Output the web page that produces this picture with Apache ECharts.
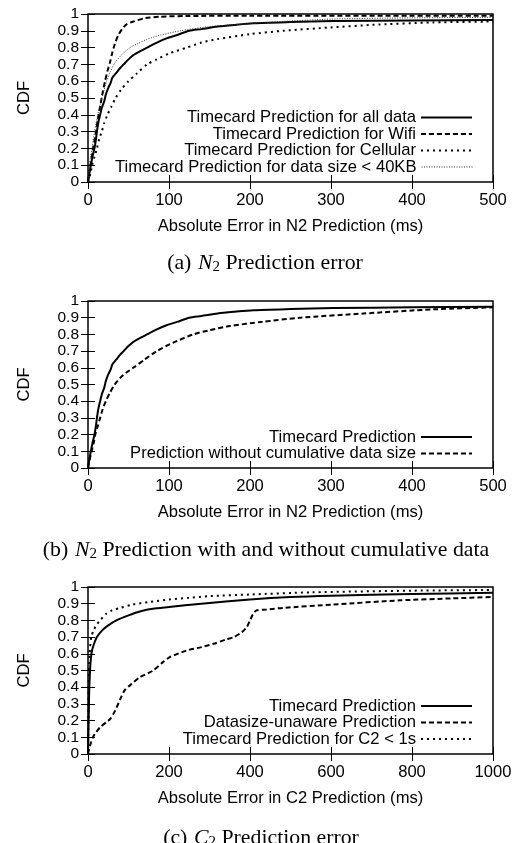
<!DOCTYPE html>
<html><head><meta charset="utf-8">
<script src="https://cdn.jsdelivr.net/npm/echarts@6/dist/echarts.min.js"></script>
<style>html,body{margin:0;padding:0;background:#fff}#c{width:515px;height:843px}</style>
</head><body><div id="c"></div>
<script>
// ---- Data ----
// (a) N2 prediction error
const aAllData = [[0,0],[2,0.06],[3.5,0.1],[6,0.16],[8,0.2],[10,0.26],[11,0.3],[13,0.36],[15,0.4],[17,0.44],[20,0.48],[22,0.52],[25,0.56],[28,0.59],[30,0.62],[35,0.65],[40,0.68],[44,0.7],[50,0.73],[56,0.755],[65,0.78],[73,0.8],[85,0.83],[97,0.855],[110,0.875],[125,0.9],[140,0.91],[160,0.925],[180,0.935],[204,0.945],[250,0.952],[303,0.958],[400,0.962],[500,0.965]];
const aWifiData = [[0,0],[2,0.07],[4,0.13],[7,0.22],[10,0.3],[12,0.37],[15,0.45],[18,0.53],[21,0.6],[24,0.66],[27,0.71],[30,0.77],[33,0.82],[37,0.87],[42,0.91],[48,0.94],[56,0.955],[70,0.975],[89,0.984],[120,0.988],[200,0.99],[500,0.99]];
const aCellData = [[0,0],[3,0.05],[5,0.1],[8,0.15],[11,0.2],[14,0.26],[17,0.3],[20,0.35],[24,0.4],[29,0.45],[34,0.5],[41,0.55],[50,0.6],[60,0.645],[73,0.7],[85,0.73],[100,0.765],[122,0.8],[140,0.83],[159,0.85],[200,0.88],[241,0.9],[300,0.92],[350,0.935],[426,0.95],[500,0.955]];
const aSmallData = [[0,0],[1.5,0.08],[3,0.15],[5,0.2],[8,0.3],[10,0.35],[12,0.4],[15,0.46],[17,0.5],[20,0.55],[23,0.6],[27,0.65],[32,0.7],[40,0.75],[52,0.8],[62,0.825],[73,0.85],[90,0.875],[114,0.9],[150,0.925],[221,0.95],[303,0.97],[400,0.977],[500,0.98]];
// (b) with / without cumulative data
const bTcData = [[0,0],[2,0.06],[3.5,0.1],[6,0.16],[8,0.2],[10,0.26],[11,0.3],[13,0.36],[15,0.4],[17,0.44],[20,0.48],[22,0.52],[25,0.56],[28,0.59],[30,0.62],[35,0.65],[40,0.68],[44,0.7],[50,0.73],[56,0.755],[65,0.78],[73,0.8],[85,0.83],[97,0.855],[110,0.875],[125,0.9],[140,0.91],[160,0.925],[180,0.935],[204,0.945],[250,0.952],[303,0.958],[400,0.962],[500,0.965]];
const bNoCumData = [[0,0],[2,0.05],[4.5,0.1],[7,0.15],[9,0.2],[12,0.25],[15,0.3],[18,0.35],[22,0.4],[27,0.45],[33,0.5],[40,0.54],[47,0.57],[56,0.6],[70,0.65],[85,0.7],[105,0.75],[130,0.8],[150,0.825],[175,0.85],[215,0.875],[262,0.9],[340,0.925],[426,0.95],[500,0.962]];
// (c) C2 prediction error
const cTcData = [[0,0],[1,0.12],[2,0.25],[3,0.38],[5,0.5],[7,0.57],[10,0.62],[15,0.66],[22,0.7],[35,0.74],[50,0.77],[70,0.8],[100,0.83],[130,0.855],[160,0.87],[200,0.88],[280,0.9],[400,0.925],[500,0.94],[600,0.948],[800,0.958],[1000,0.965]];
const cUnawareData = [[0,0],[5,0.05],[12,0.1],[20,0.13],[30,0.16],[45,0.19],[55,0.21],[67,0.26],[80,0.33],[90,0.38],[108,0.42],[128,0.46],[161,0.5],[185,0.55],[202,0.58],[244,0.62],[280,0.64],[310,0.66],[340,0.685],[360,0.7],[380,0.73],[392,0.76],[400,0.8],[408,0.84],[416,0.86],[440,0.865],[482,0.875],[605,0.895],[770,0.92],[900,0.932],[1000,0.94]];
const cSub1sData = [[0,0],[1,0.2],[2,0.45],[4,0.6],[8,0.7],[14,0.74],[20,0.77],[30,0.8],[45,0.84],[60,0.86],[80,0.875],[110,0.895],[150,0.91],[200,0.925],[250,0.935],[300,0.945],[400,0.955],[550,0.968],[800,0.978],[1000,0.982]];

const xMax = [500, 500, 1000];
const xStep = [100, 100, 200];
const xTitles = ['Absolute Error in N2 Prediction (ms)', 'Absolute Error in N2 Prediction (ms)', 'Absolute Error in C2 Prediction (ms)'];
const yTitle = 'CDF';
const captions = [
  ['(a)', '2', ' Prediction error'],
  ['(b)', '2', ' Prediction with and without cumulative data'],
  ['(c)', '2', ' Prediction error']
];
const capLetters = ['N', 'N', 'C'];

const names = {
  aAll: 'Timecard Prediction for all data',
  aWifi: 'Timecard Prediction for Wifi',
  aCell: 'Timecard Prediction for Cellular',
  aSmall: 'Timecard Prediction for data size < 40KB',
  bTc: 'Timecard Prediction',
  bNoCum: 'Prediction without cumulative data size',
  cTc: 'Timecard Prediction',
  cUnaware: 'Datasize-unaware Prediction',
  cSub1s: 'Timecard Prediction for C2 < 1s'
};

// ---- Layout ----
const SANS = '"Liberation Sans", Arial, Helvetica, sans-serif';
const SERIF = '"Liberation Serif", "Times New Roman", serif';
const FS = 16.6;
const YFS = 15.5;
const CFS = 21.8;
const gridPos = [
  {left: 88, top: 14, width: 405, height: 168},
  {left: 88, top: 301, width: 405, height: 167},
  {left: 88, top: 587, width: 405, height: 167}
];
const capPos = [[265, 263], [266, 550], [261, 838]];

const grids = [], xAxes = [], yAxes = [], series = [], legends = [], graphics = [];
const tick = {show: true, inside: true, length: 7, lineStyle: {color: '#000', width: 1}};

gridPos.forEach((g, i) => {
  grids.push(Object.assign({show: true, borderColor: '#000', borderWidth: 1.5, backgroundColor: 'transparent'}, g));
  xAxes.push({
    type: 'value', gridIndex: i, min: 0, max: xMax[i], interval: xStep[i],
    axisLine: {show: false}, axisTick: tick, splitLine: {show: false},
    axisLabel: {color: '#000', fontFamily: SANS, fontSize: FS, margin: 10, formatter: v => String(v),
      showMinLabel: true, showMaxLabel: true},
    name: xTitles[i], nameLocation: 'middle', nameGap: 36,
    nameTextStyle: {color: '#000', fontFamily: SANS, fontSize: FS}
  });
  xAxes.push({
    type: 'value', gridIndex: i, position: 'top', min: 0, max: xMax[i], interval: xStep[i],
    axisLine: {show: false}, axisTick: tick, splitLine: {show: false}, axisLabel: {show: false}
  });
  yAxes.push({
    type: 'value', gridIndex: i, min: 0, max: 1, interval: 0.1,
    axisLine: {show: false}, axisTick: tick, splitLine: {show: false},
    axisLabel: {color: '#000', fontFamily: SANS, fontSize: YFS, margin: 9, lineHeight: YFS,
      showMinLabel: true, showMaxLabel: true,
      formatter: v => String(+(+v).toFixed(1))},
    name: yTitle, nameLocation: 'middle', nameGap: 55, nameRotate: 90,
    nameTextStyle: {color: '#000', fontFamily: SANS, fontSize: FS}
  });
  yAxes.push({
    type: 'value', gridIndex: i, position: 'right', min: 0, max: 1, interval: 0.1,
    axisLine: {show: false}, axisTick: tick, splitLine: {show: false}, axisLabel: {show: false}
  });
  graphics.push({
    type: 'text', x: capPos[i][0], y: capPos[i][1],
    style: {
      text: '{p|' + captions[i][0] + '}  {n|' + capLetters[i] + '}{s|' + captions[i][1] + '}{p|' + captions[i][2] + '}',
      align: 'center', verticalAlign: 'middle', fill: '#000',
      rich: {
        p: {fontFamily: SERIF, fontSize: CFS, fill: '#000'},
        n: {fontFamily: SERIF, fontSize: CFS, fontStyle: 'italic', fill: '#000'},
        s: {fontFamily: SERIF, fontSize: 15, fill: '#000', verticalAlign: 'bottom', padding: [9, 0, 0, 0]}
      }
    }
  });
});

const styles = {
  solid: {color: '#000', width: 2, type: 'solid'},
  dashed: {color: '#000', width: 2, type: [5, 3]},
  dotted: {color: '#000', width: 2, type: [2, 4]},
  fine: {color: '#333', width: 1, type: [1, 1.5]}
};

function addSeries(name, data, gi, style, legendY) {
  series.push({
    type: 'line', name: name, data: data, xAxisIndex: gi * 2, yAxisIndex: gi * 2,
    symbol: 'none', smooth: 0.25, lineStyle: styles[style], itemStyle: {color: styles[style].color},
    emphasis: {disabled: true}, silent: true, animation: false
  });
  legends.push({
    data: [name], right: 42, top: legendY - 8, orient: 'horizontal', align: 'right',
    itemWidth: 51, itemHeight: 16, itemGap: 0, padding: 0, selectedMode: false,
    itemStyle: {opacity: 0},
    lineStyle: styles[style],
    textStyle: {color: '#000', fontFamily: SANS, fontSize: FS}
  });
}

addSeries(names.aAll, aAllData, 0, 'solid', 117);
addSeries(names.aWifi, aWifiData, 0, 'dashed', 133.5);
addSeries(names.aCell, aCellData, 0, 'dotted', 150);
addSeries(names.aSmall, aSmallData, 0, 'fine', 166.5);
addSeries(names.bTc, bTcData, 1, 'solid', 436.5);
addSeries(names.bNoCum, bNoCumData, 1, 'dashed', 453);
addSeries(names.cTc, cTcData, 2, 'solid', 705.5);
addSeries(names.cUnaware, cUnawareData, 2, 'dashed', 722);
addSeries(names.cSub1s, cSub1sData, 2, 'dotted', 738.5);

const chart = echarts.init(document.getElementById('c'), null, {renderer: 'canvas'});
chart.setOption({
  animation: false,
  backgroundColor: '#fff',
  grid: grids, xAxis: xAxes, yAxis: yAxes, series: series, legend: legends, graphic: graphics
});
</script></body></html>
